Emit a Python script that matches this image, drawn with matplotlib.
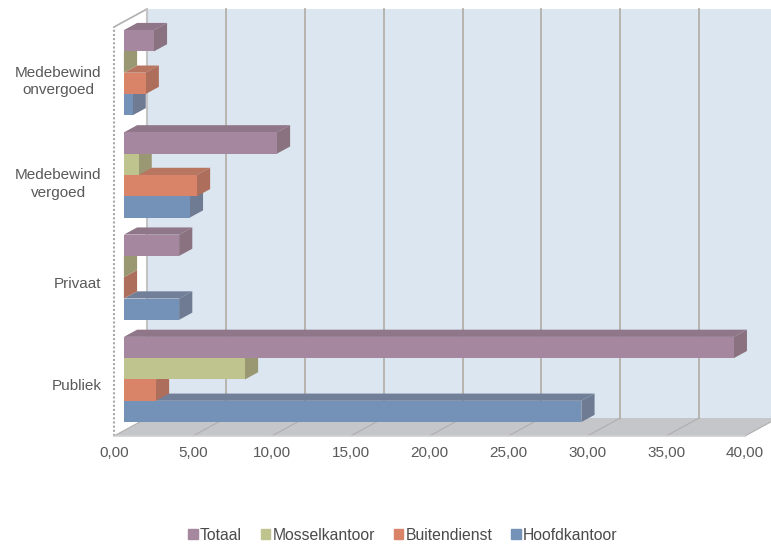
import matplotlib
matplotlib.use('Agg')
import matplotlib.pyplot as plt
from matplotlib.patches import Patch

plt.rcParams['font.family'] = ['Liberation Sans', 'DejaVu Sans']

categories = ['Publiek', 'Privaat', 'Medebewind\nvergoed', 'Medebewind\nonvergoed']
x_ticks = [0, 5, 10, 15, 20, 25, 30, 35, 40]
x_labels = ['0,00', '5,00', '10,00', '15,00', '20,00', '25,00', '30,00', '35,00', '40,00']

hoofdkantoor = [29.0, 3.5, 4.18, 0.55]
buitendienst = [2.03, 0.0, 4.63, 1.38]
mosselkantoor = [7.67, 0.0, 0.93, 0.0]
totaal = [38.66, 3.5, 9.7, 1.9]

series = [
    ('Hoofdkantoor', hoofdkantoor, '#7491b7', '#6f7b92', '#717f99'),
    ('Buitendienst', buitendienst, '#d98369', '#ad6f5c', '#b87560'),
    ('Mosselkantoor', mosselkantoor, '#bfc48f', '#9a9873', '#a3a47c'),
    ('Totaal', totaal, '#a5889f', '#8a7280', '#8f7688'),
]

W, H = 771, 545
fig = plt.figure(figsize=(W / 100, H / 100), dpi=100)
# axes = front plane of the fake 3d box
ax = fig.add_axes([114 / W, 1 - 436 / H, (745 - 114) / W, (436 - 27) / H])
ax.set_xlim(0, 40)
ax.set_ylim(-0.5, 3.5)
ax.patch.set_visible(False)
for s in ax.spines.values():
    s.set_visible(False)

# full depth of the box in data units
DX = 33 / (631 / 40)
DY = 18 / (409 / 4)
BOTTOM, TOP = -0.5, 3.5


def proj(x, y, d):
    return x + DX * d, y + DY * d


def face(pts, color, z, **kw):
    xs, ys = zip(*[proj(*p) for p in pts])
    ax.fill(xs, ys, color=color, zorder=z, clip_on=False, **kw)


# walls and floor
face([(0, BOTTOM, 1), (42, BOTTOM, 1), (42, TOP, 1), (0, TOP, 1)], '#dce6f0', 1, lw=0)
face([(0, BOTTOM, 0), (40, BOTTOM, 0), (40, BOTTOM, 1), (0, BOTTOM, 1)], '#c4c6c9', 1.5, lw=0)
face([(0, BOTTOM, 0), (0, BOTTOM, 1), (0, TOP, 1), (0, TOP, 0)], 'white', 1.6, lw=0)

# gridlines on back wall and floor
for t in x_ticks:
    x1, y1 = proj(t, BOTTOM, 1)
    x0, y0 = proj(t, TOP, 1)
    if t > 0:
        ax.plot([x1, x1], [y1, y0], color='#b5b0ab', lw=1.3, zorder=2, clip_on=False)
    ax.plot([t, x1], [BOTTOM, y1], color='#b0aeae', lw=0.8, zorder=2, clip_on=False)

# box outline, dotted like the original
line_kw = dict(color='#a8a8a8', lw=1.5, zorder=2.5, clip_on=False)
ax.plot([0, 0], [BOTTOM, TOP], ls=(0, (1, 1)), **line_kw)
ax.plot([0, DX], [TOP, TOP + DY], color='#b0b0b0', lw=1.2, zorder=2.5, clip_on=False)
ax.plot([DX, DX], [BOTTOM + DY, TOP + DY], color='#c4c4c4', lw=1.5, zorder=2.5, clip_on=False)
ax.plot([0, 40], [BOTTOM, BOTTOM], color='#d0d0d0', lw=1.2, zorder=2.5, clip_on=False)

# bars, painted bottom to top
NEAR, FAR = 0.3, 0.7
h = 21.3 / (409 / 4)
z = 3
for i in range(len(categories)):
    for j, (name, vals, front, side, top) in enumerate(series):
        v = vals[i]
        yb = i - 2 * h + j * h
        x0, y0 = proj(0, yb, NEAR)
        ax.barh(y0, v, height=h, left=x0, align='edge', color=front, zorder=z + 0.2, clip_on=False)
        face([(0, yb + h, NEAR), (v, yb + h, NEAR), (v, yb + h, FAR), (0, yb + h, FAR)], top, z, lw=0)
        face([(v, yb, NEAR), (v, yb + h, NEAR), (v, yb + h, FAR), (v, yb, FAR)], side, z + 0.1, lw=0)
        z += 1

ax.set_xticks(x_ticks)
ax.set_xticklabels(x_labels)
ax.set_yticks(range(len(categories)))
ax.set_yticklabels(categories, multialignment='center', linespacing=1.35)
ax.tick_params(length=0, labelsize=11, labelcolor='#595959')
ax.tick_params(axis='x', pad=7)
ax.tick_params(axis='y', pad=9)

handles = [Patch(color=c[2], label=c[0]) for c in reversed(series)]
fig.legend(handles=handles, ncols=4, frameon=False, fontsize=11.3, labelcolor='#4a4a4a',
           loc='center', bbox_to_anchor=(403 / W, 1 - 535 / H),
           handlelength=0.6, handleheight=0.6, handletextpad=0.15, columnspacing=1.2)

fig.savefig('out.png', dpi=100)
